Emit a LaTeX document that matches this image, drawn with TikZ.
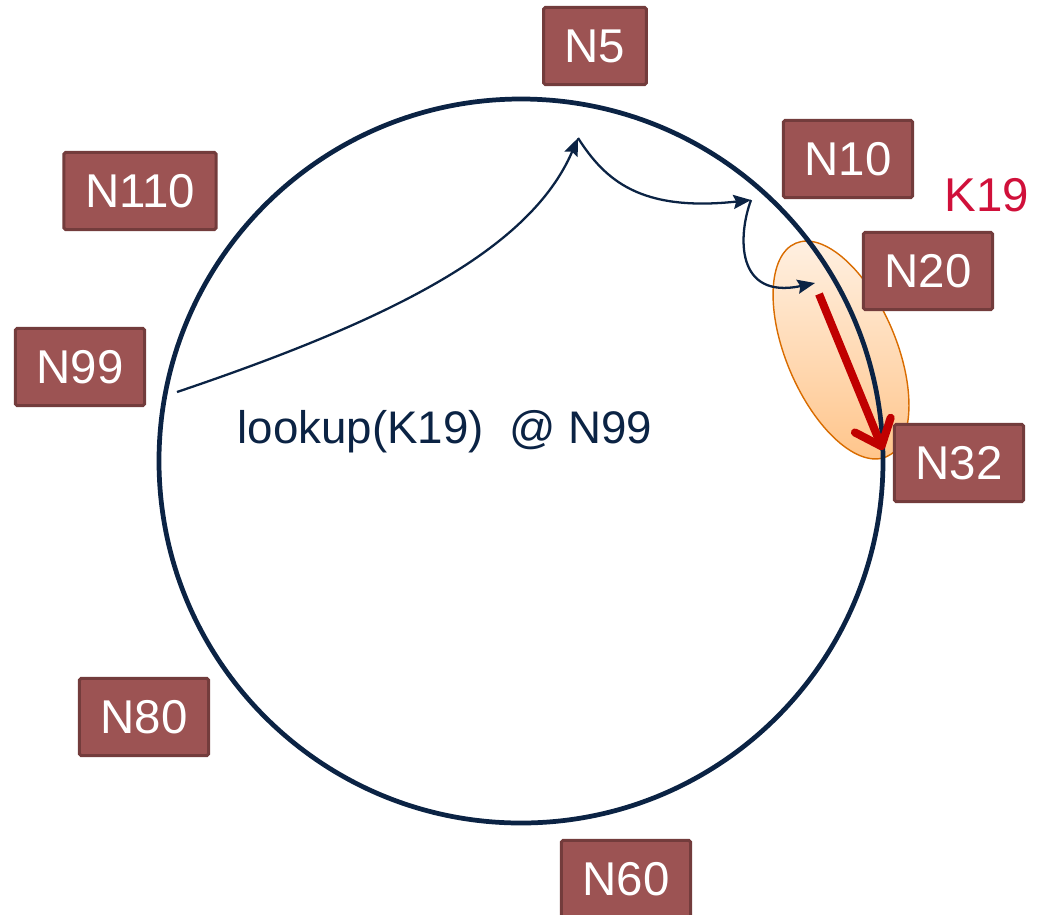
\documentclass[tikz,border=0pt]{standalone}
\usepackage{fontspec}
\setmainfont{Liberation Sans}
\usepackage{xcolor}
\usetikzlibrary{calc, arrows.meta}
\definecolor{ringblue}{HTML}{0B2344}
\definecolor{boxred}{HTML}{9C5353}
\definecolor{boxedge}{HTML}{733C3C}
\definecolor{keyred}{HTML}{D0103A}
\definecolor{hopred}{HTML}{C00000}
\tikzset{>=Stealth,
  peer/.style={draw=boxedge, fill=boxred, line width=1.7pt, rounded corners=1pt, text=white,
    inner xsep=12pt, minimum height=44pt, font=\fontsize{27}{32}\selectfont},
  hop/.style={ringblue, line width=1.3pt, -{Stealth[length=10pt,width=8pt,inset=1.5pt]}}
}

\begin{document}
\begin{tikzpicture}[x=0.02cm, y=-0.02cm]
\useasboundingbox (0,0) rectangle (1040,914);
% highlight of the key range
\path[shift={(841,350)}, rotate=23, draw=orange!85!black, line width=0.8pt,
  top color=orange!12, bottom color=orange!45] (0,0) ellipse (55 and 116);
% the ring
\draw[ringblue, line width=2.7pt] (521,461) circle (362);
% peers
\node[peer] (n5) at (595,46) {N5};
\node[peer] (n10) at (848,159) {N10};
\node[peer] (n20) at (928,271) {N20};
\node[peer] (n32) at (959,463) {N32};
\node[peer] (n60) at (626,879) {N60};
\node[peer] (n80) at (144,717) {N80};
\node[peer] (n99) at (80,367) {N99};
\node[peer] (n110) at (140,191) {N110};
\node[text=keyred, font=\fontsize{27}{32}\selectfont] (k19) at (987,195) {K19};
\node[text=ringblue, font=\fontsize{26}{31}\selectfont] (query) at (445,432) {lookup(K19)\ \ @ N99};
% lookup hops
\coordinate (start) at (177,392);
\coordinate (hopa) at (578,138);
\coordinate (hopb) at (751,200);
\coordinate (hopc) at (815,283);
\coordinate (redfrom) at (819,294);
\coordinate (redto) at (883,450);
\draw[hop] (start) .. controls (390,320) and (530,250) .. (hopa);
\draw[hop] (hopa) .. controls (605,180) and (640,212) .. (hopb);
\draw[hop] (hopb) .. controls (738,235) and (735,300) .. (hopc);
\draw[hopred, line width=4.6pt, -{Straight Barb[round, length=13pt, width=22pt]}] (redfrom) -- (redto);
\end{tikzpicture}
\end{document}
